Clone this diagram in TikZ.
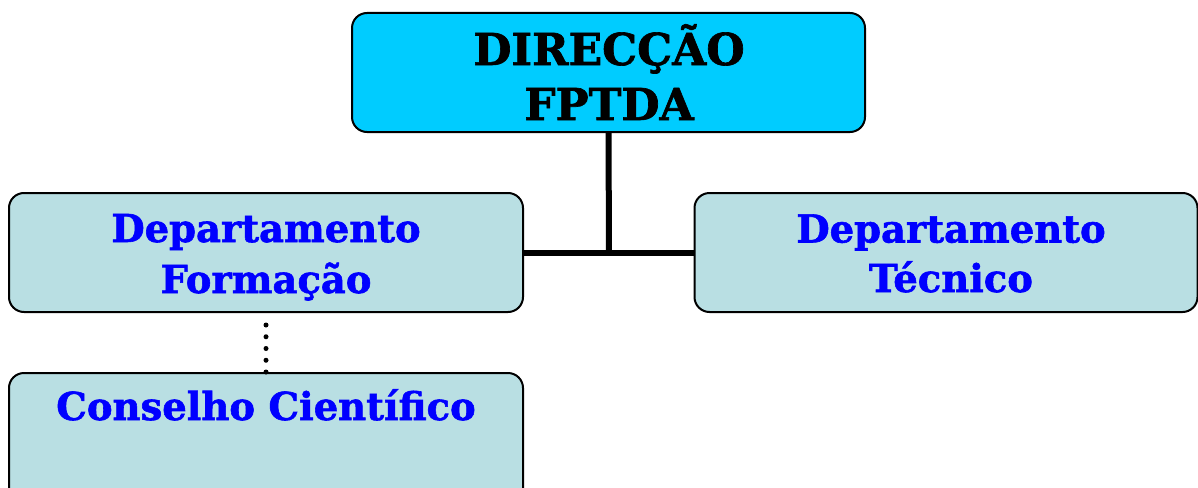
\documentclass[tikz,border=0pt]{standalone}
\usepackage{fontspec}
\setmainfont{DejaVu Serif}[BoldFeatures={FakeBold=1.5}]
\definecolor{topfill}{HTML}{00CCFF}
\definecolor{subfill}{HTML}{B9DFE3}
\definecolor{txtblue}{HTML}{0000FF}
\tikzset{
  box/.style={draw=black, line width=2pt, rounded corners=15pt, inner sep=0pt},
  topbox/.style={box, fill=topfill},
  subbox/.style={box, fill=subfill},
  toptext/.style={anchor=base, inner sep=0pt, font=\fontsize{44}{55}\selectfont\bfseries, text=black},
  subtext/.style={anchor=base, inner sep=0pt, font=\fontsize{38.5}{51}\selectfont\bfseries, text=txtblue},
  conn/.style={line width=6pt, draw=black},
  dots/.style={line width=5pt, line cap=round, dash pattern=on 0pt off 11.75pt}
}
\begin{document}
\begin{tikzpicture}[x=1pt,y=-1pt]
\useasboundingbox (0,0) rectangle (1198,487);
\begin{scope}
\clip (0,0) rectangle (1198,487);
\node[topbox, minimum width=513pt, minimum height=119pt] (dir) at (608.5,72.5) {};
\node[subbox, minimum width=514pt, minimum height=119pt] (form) at (266,252.5) {};
\node[subbox, minimum width=503pt, minimum height=119pt] (tec) at (946,252.5) {};
\node[subbox, minimum width=514pt, minimum height=140pt] (cons) at (266,443) {};
\node[toptext] (dir1) at (609,65) {DIRECÇÃO};
\node[toptext] (dir2) at (609,120) {FPTDA};
\node[subtext] (form1) at (266,242) {Departamento};
\node[subtext] (form2) at (266,293) {Formação};
\node[subtext] (tec1) at (951,242.5) {Departamento};
\node[subtext] (tec2) at (951,292) {Técnico};
\node[subtext] (cons1) at (266,420) {Conselho Científico};
\coordinate (j) at (609,252.5);
\draw[conn] (dir.south) -- (j);
\draw[conn] (form.east) -- (tec.west);
\draw[dots] ([yshift=-12pt]form.south) -- (cons.north);
\end{scope}
\end{tikzpicture}
\end{document}
